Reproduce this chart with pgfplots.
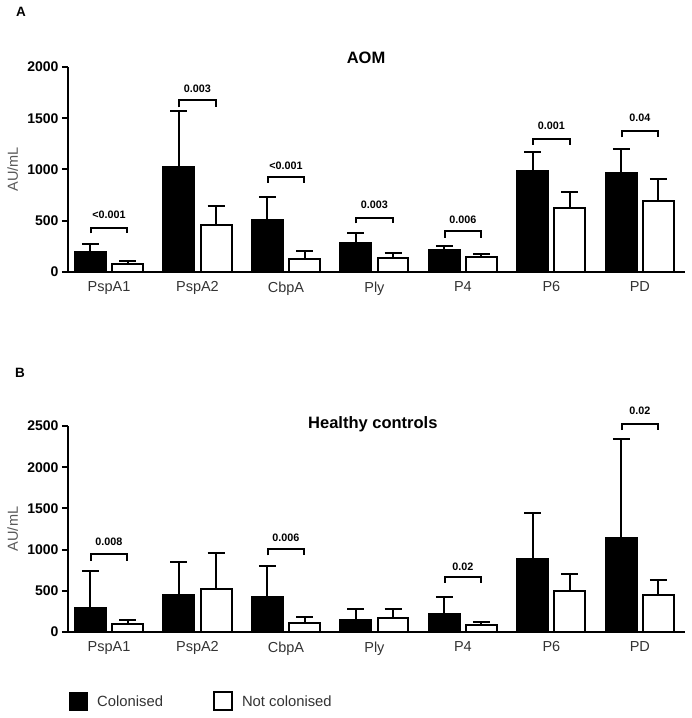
\documentclass[border=0pt]{standalone}
\usepackage{fontspec}
\setmainfont{Liberation Sans}
\usepackage{pgfplots}
\pgfplotsset{compat=1.18}

\tikzset{pval/.style={font=\fontsize{10.8}{12}\selectfont\bfseries}}

\pgfplotsset{
  panel/.style={
    scale only axis, width=617pt, anchor=south west,
    axis lines*=left,
    axis line style={line width=2pt, black},
    xmin=-0.463, xmax=6.51, ymin=0,
    xtick={0,...,6},
    xticklabels={PspA1,PspA2,CbpA,Ply,P4,P6,PD},
    x tick style={draw=none},
    ytick pos=left, tick align=outside,
    major tick length=6pt,
    y tick style={line width=2pt, black},
    /pgf/number format/assume math mode=true,
    /pgf/number format/1000 sep={},
    yticklabel style={font=\fontsize{14}{16}\selectfont\bfseries},
    xticklabel style={font=\fontsize{14.5}{16}\selectfont, text=black!80},
    ylabel={AU/mL},
    every axis y label/.style={at={(axis description cs:-0.0895,0.5)}, rotate=90, anchor=center,
      font=\fontsize{14.5}{16}\selectfont, text=black!65},
    title style={font=\fontsize{16.5}{18}\selectfont\bfseries, anchor=center},
    clip=false,
  },
  colbar/.style={ybar, bar width=0.35, bar shift=0pt, fill=black, draw=black, line width=2pt,
    legend image code/.code={\draw[fill=black, draw=black, line width=2pt] (0pt,-8.5pt) rectangle (17pt,8.5pt);}},
  notbar/.style={ybar, bar width=0.35, bar shift=0pt, fill=white, draw=black, line width=2pt,
    legend image code/.code={\draw[fill=white, draw=black, line width=2pt] (0pt,-9pt) rectangle (18pt,9pt);}},
  errs/.style={error bars/.cd, y dir=plus, y explicit,
    error bar style={line width=2pt, black},
    error mark options={rotate=90, line width=2pt, mark size=8.5pt, black}},
  brk/.style={line width=2pt, black},
}

\begin{document}
\begin{tikzpicture}
\path[use as bounding box] (0pt,0pt) rectangle (692pt,718pt);

\node[font=\fontsize{13.5}{16}\selectfont\bfseries] at (21pt,706pt) {A};
\node[font=\fontsize{13.5}{16}\selectfont\bfseries] at (20pt,345.5pt) {B};

% panel A: AOM  (colonised bars at category-0.21, not colonised at category+0.21)
\begin{axis}[panel, at={(68pt,446pt)}, height=205pt, ymax=2000,
  ytick={0,500,...,2000},
  title={AOM}, title style={at={(axis description cs:0.483,1.015)}}]
\addplot[colbar, errs] coordinates {
  (-0.21,195) +- (0,75)
  (0.79,1025) +- (0,545)
  (1.79,505) +- (0,230)
  (2.79,285) +- (0,100)
  (3.79,215) +- (0,40)
  (4.79,990) +- (0,180)
  (5.79,970) +- (0,230)
};
\addplot[notbar, errs] coordinates {
  (0.21,80) +- (0,30)
  (1.21,460) +- (0,180)
  (2.21,130) +- (0,70)
  (3.21,140) +- (0,50)
  (4.21,145) +- (0,35)
  (5.21,620) +- (0,165)
  (6.21,690) +- (0,215)
};
% p-value brackets
\addplot[brk] coordinates {(-0.207,377) (-0.207,432) (0.207,432) (0.207,377)};
\addplot[brk] coordinates {(0.793,1607) (0.793,1678) (1.207,1678) (1.207,1607)};
\addplot[brk] coordinates {(1.793,871) (1.793,924) (2.207,924) (2.207,871)};
\addplot[brk] coordinates {(2.793,475) (2.793,530) (3.207,530) (3.207,475)};
\addplot[brk] coordinates {(3.793,335) (3.793,403) (4.207,403) (4.207,335)};
\addplot[brk] coordinates {(4.793,1239) (4.793,1301) (5.207,1301) (5.207,1239)};
\addplot[brk] coordinates {(5.793,1314) (5.793,1376) (6.207,1376) (6.207,1314)};
\node[pval] at (axis cs:0,556) {<0.001};
\node[pval] at (axis cs:1,1792) {0.003};
\node[pval] at (axis cs:2,1037) {<0.001};
\node[pval] at (axis cs:3,654) {0.003};
\node[pval] at (axis cs:4,507) {0.006};
\node[pval] at (axis cs:5,1424) {0.001};
\node[pval] at (axis cs:6,1500) {0.04};
\end{axis}

% panel B: healthy controls
\begin{axis}[panel, at={(68pt,86pt)}, height=206pt, ymax=2500,
  ytick={0,500,...,2500},
  title={Healthy controls}, title style={at={(axis description cs:0.494,0.98)}},
  legend columns=2,
  legend style={draw=none, fill=none, at={(axis description cs:0.0016,-0.337)}, anchor=west,
    inner sep=0pt, font=\fontsize{14.8}{16}\selectfont, text=black!80,
    /tikz/every odd column/.append style={column sep=7pt},
    /tikz/every even column/.append style={column sep=48pt}},
  legend entries={Colonised, Not colonised}]
\addplot[colbar, errs] coordinates {
  (-0.21,295) +- (0,440)
  (0.79,445) +- (0,405)
  (1.79,425) +- (0,370)
  (2.79,140) +- (0,135)
  (3.79,215) +- (0,210)
  (4.79,890) +- (0,560)
  (5.79,1140) +- (0,1200)
};
\addplot[notbar, errs] coordinates {
  (0.21,100) +- (0,40)
  (1.21,520) +- (0,440)
  (2.21,105) +- (0,80)
  (3.21,175) +- (0,100)
  (4.21,90) +- (0,30)
  (5.21,495) +- (0,210)
  (6.21,455) +- (0,175)
};
\addplot[brk] coordinates {(-0.207,866) (-0.207,947) (0.207,947) (0.207,866)};
\addplot[brk] coordinates {(1.793,930) (1.793,1003) (2.207,1003) (2.207,930)};
\addplot[brk] coordinates {(3.793,595) (3.793,671) (4.207,671) (4.207,595)};
\addplot[brk] coordinates {(5.793,2451) (5.793,2524) (6.207,2524) (6.207,2451)};
\node[pval] at (axis cs:0,1096) {0.008};
\node[pval] at (axis cs:2,1149) {0.006};
\node[pval] at (axis cs:4,793) {0.02};
\node[pval] at (axis cs:6,2686) {0.02};
\end{axis}
\end{tikzpicture}
\end{document}
